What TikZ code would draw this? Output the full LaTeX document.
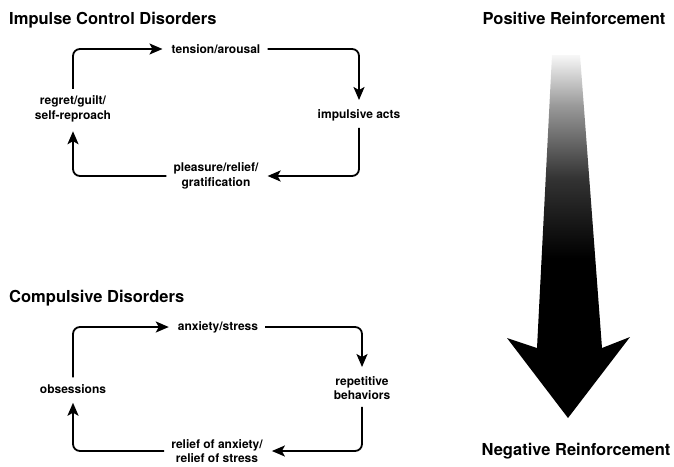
\documentclass[tikz,border=0pt]{standalone}
\usepackage{fontspec}
\setmainfont{TeX Gyre Heros}
\usetikzlibrary{arrows.meta,positioning}

\pgfdeclareverticalshading{reinf}{100bp}{color(0bp)=(black); color(25bp)=(black); color(47bp)=(black); color(58bp)=(black!80); color(68bp)=(black!40); color(75bp)=(black!3); color(100bp)=(black!3)}

\tikzset{
    lbl/.style={font=\bfseries\fontsize{12}{14.5}\selectfont, align=center, inner sep=1pt},
    ttl/.style={font=\bfseries\fontsize{16.5}{18}\selectfont, inner sep=0pt},
    cyc/.style={-{Stealth[length=13pt,width=11pt,inset=3pt]}, line width=1.8pt, rounded corners=7pt,
        shorten >=8pt, shorten <=6pt}
}

\begin{document}
\begin{tikzpicture}[x=1pt, y=-1pt]
    \useasboundingbox (0,0) rectangle (674,466);

    % Impulse control cycle
    \node[ttl, anchor=west] (ictitle) at (9, 20) {Impulse Control Disorders};
    \node[lbl] (tension) at (216, 49) {tension/arousal};
    \node[lbl] (impulsive) at (359, 115) {impulsive acts};
    \node[lbl] (pleasure) at (216, 176) {pleasure/relief/\\gratification};
    \node[lbl] (regret) at (73, 109) {regret/guilt/\\self-reproach};

    \draw[cyc] (regret.north) |- (tension.west);
    \draw[cyc] (tension.east) -| (impulsive.north);
    \draw[cyc] (impulsive.south) |- (pleasure.east);
    \draw[cyc] (pleasure.west) -| (regret.south);

    % Compulsive cycle
    \node[ttl, anchor=west] (cdtitle) at (9, 298) {Compulsive Disorders};
    \node[lbl] (anxiety) at (218, 327) {anxiety/stress};
    \node[lbl] (repetitive) at (362, 388) {repetitive\\behaviors};
    \node[lbl] (reliefs) at (217, 451) {relief of anxiety/\\relief of stress};
    \node[lbl] (obsess) at (73, 389) {obsessions};

    \draw[cyc] (obsess.north) |- (anxiety.west);
    \draw[cyc] (anxiety.east) -| (repetitive.north);
    \draw[cyc] (repetitive.south) |- (reliefs.east);
    \draw[cyc] (reliefs.west) -| (obsess.south);

    % Reinforcement arrow
    \node[ttl] (pos) at (574, 18) {Positive Reinforcement};
    \node[ttl] (neg) at (576, 451) {Negative Reinforcement};
    \path[shading=reinf] (552, 55) -- (580, 55) -- (602, 348) -- (630, 337)
        -- (568, 418) -- (507, 338) -- (537, 348) -- cycle;
\end{tikzpicture}
\end{document}
